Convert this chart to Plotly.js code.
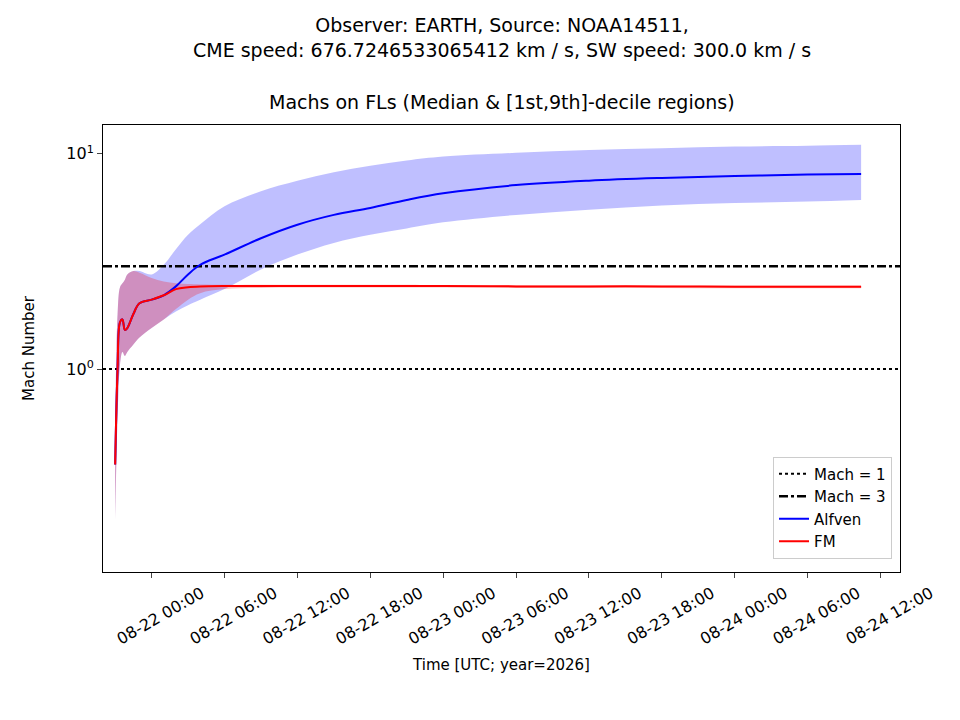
<!DOCTYPE html>
<html>
<head>
<meta charset="utf-8">
<script src="https://cdn.plot.ly/plotly-3.0.1.min.js"></script>
<style>body{margin:0;background:#fff}#chart{width:960px;height:720px}</style>
</head>
<body>
<div id="chart"></div>
<script>
// hours relative to 2026-08-22 00:00 UTC
const HOURS = [-3.0, -2.8, -2.6, -2.4, -2.2, -2.0, -1.5, -1.0, 0, 1, 2, 3, 4, 6, 9, 12, 15, 18, 21, 24, 30, 36, 42, 48, 54, 58.4];
const alfvenMed = [0.36, 1.0, 1.65, 1.7, 1.52, 1.55, 1.8, 2.02, 2.1, 2.2, 2.42, 2.75, 3.05, 3.4, 4.05, 4.68, 5.2, 5.6, 6.1, 6.55, 7.15, 7.5, 7.72, 7.88, 8.0, 8.05];
const alfvenHi  = [0.5, 1.8, 2.4, 2.5, 2.6, 2.75, 2.85, 2.85, 2.75, 3.05, 3.6, 4.2, 4.7, 5.7, 6.7, 7.5, 8.2, 8.8, 9.3, 9.7, 10.1, 10.4, 10.6, 10.8, 10.9, 11.0];
const alfvenLo  = [0.2, 0.6, 1.05, 1.2, 1.15, 1.2, 1.3, 1.4, 1.55, 1.7, 1.85, 1.98, 2.1, 2.35, 2.9, 3.4, 3.85, 4.2, 4.5, 4.8, 5.2, 5.5, 5.75, 5.9, 6.0, 6.1];
const fmMed = [0.36, 1.0, 1.65, 1.7, 1.52, 1.55, 1.8, 2.02, 2.1, 2.2, 2.35, 2.4, 2.42, 2.43, 2.43, 2.43, 2.43, 2.43, 2.43, 2.43, 2.42, 2.42, 2.42, 2.41, 2.41, 2.41];
const fmHi  = [0.5, 1.8, 2.4, 2.5, 2.6, 2.75, 2.85, 2.8, 2.65, 2.55, 2.5, 2.48, 2.47, 2.46, 2.46, 2.46, 2.46, 2.46, 2.46, 2.45, 2.45, 2.45, 2.44, 2.44, 2.44, 2.44];
const fmLo  = [0.2, 0.6, 1.05, 1.2, 1.15, 1.2, 1.3, 1.4, 1.55, 1.7, 1.9, 2.1, 2.25, 2.35, 2.38, 2.39, 2.39, 2.39, 2.39, 2.39, 2.38, 2.38, 2.38, 2.37, 2.37, 2.37];
const MACH_LINES = [1, 3];

const base = Date.UTC(2026, 7, 22, 0, 0);
function iso(h) { return new Date(base + h * 3600e3).toISOString().replace('T', ' ').slice(0, 19); }
const X = HOURS.map(iso);
const xStart = iso(-4), xEnd = iso(61.6);

function band(lo, hi, color) {
  return [
    { x: X, y: lo, type: 'scatter', mode: 'lines', line: { width: 0, shape: 'spline' }, showlegend: false, hoverinfo: 'skip' },
    { x: X, y: hi, type: 'scatter', mode: 'lines', fill: 'tonexty', fillcolor: color, line: { width: 0, shape: 'spline' }, showlegend: false, hoverinfo: 'skip' },
  ];
}

const traces = [
  ...band(alfvenLo, alfvenHi, 'rgba(0,0,255,0.25)'),
  ...band(fmLo, fmHi, 'rgba(255,0,0,0.25)'),
  { x: [xStart, xEnd], y: [MACH_LINES[0], MACH_LINES[0]], type: 'scatter', mode: 'lines', name: 'Mach = 1', line: { color: 'black', width: 2, dash: 'dot' } },
  { x: [xStart, xEnd], y: [MACH_LINES[1], MACH_LINES[1]], type: 'scatter', mode: 'lines', name: 'Mach = 3', line: { color: 'black', width: 2.5, dash: 'dashdot' } },
  { x: X, y: alfvenMed, type: 'scatter', mode: 'lines', name: 'Alfven', line: { color: 'blue', width: 2, shape: 'spline' } },
  { x: X, y: fmMed, type: 'scatter', mode: 'lines', name: 'FM', line: { color: 'red', width: 2, shape: 'spline' } },
];

const font = { family: 'DejaVu Sans', size: 15, color: 'black' };
const layout = {
  width: 960, height: 720,
  paper_bgcolor: 'white', plot_bgcolor: 'white',
  font: font,
  margin: { l: 103, r: 60, t: 125, b: 148 },
  showlegend: true,
  legend: { x: 0.99, y: 0.03, xanchor: 'right', yanchor: 'bottom', traceorder: 'normal', bordercolor: '#ccc', borderwidth: 1, bgcolor: 'white', font: { size: 15 } },
  xaxis: {
    type: 'date', range: [xStart, xEnd],
    tickformat: '%m-%d %H:%M', dtick: 6 * 3600e3, tick0: iso(0),
    tickangle: -30, ticklabelshift: 50, ticks: 'outside', ticklen: 5, showgrid: false, zeroline: false,
    showline: true, mirror: true, linecolor: 'black', tickfont: { size: 16 },
    title: { text: 'Time [UTC; year=2026]', font: { size: 15 }, standoff: 12 },
  },
  yaxis: {
    type: 'log', range: [Math.log10(0.114), Math.log10(13.6)],
    tickvals: [1, 10], ticktext: ['10<sup>0</sup>', '10<sup>1</sup>'],
    ticks: 'outside', ticklen: 5, showgrid: false, zeroline: false,
    showline: true, mirror: true, linecolor: 'black', tickfont: { size: 16 },
    title: { text: 'Mach Number', font: { size: 15 }, standoff: 28 },
  },
  annotations: [
    { xref: 'paper', yref: 'paper', x: 0.5, y: 1, yshift: 10, xanchor: 'center', yanchor: 'bottom', showarrow: false,
      text: 'Machs on FLs (Median & [1st,9th]-decile regions)', font: { size: 19 } },
    { xref: 'paper', yref: 'paper', x: 0.5, y: 1, yshift: 62, xanchor: 'center', yanchor: 'bottom', showarrow: false,
      text: 'Observer: EARTH, Source: NOAA14511,<br>CME speed: 676.7246533065412 km / s, SW speed: 300.0 km / s', font: { size: 19 } },
  ],
};

Plotly.newPlot('chart', traces, layout, { displayModeBar: false });
</script>
</body>
</html>
